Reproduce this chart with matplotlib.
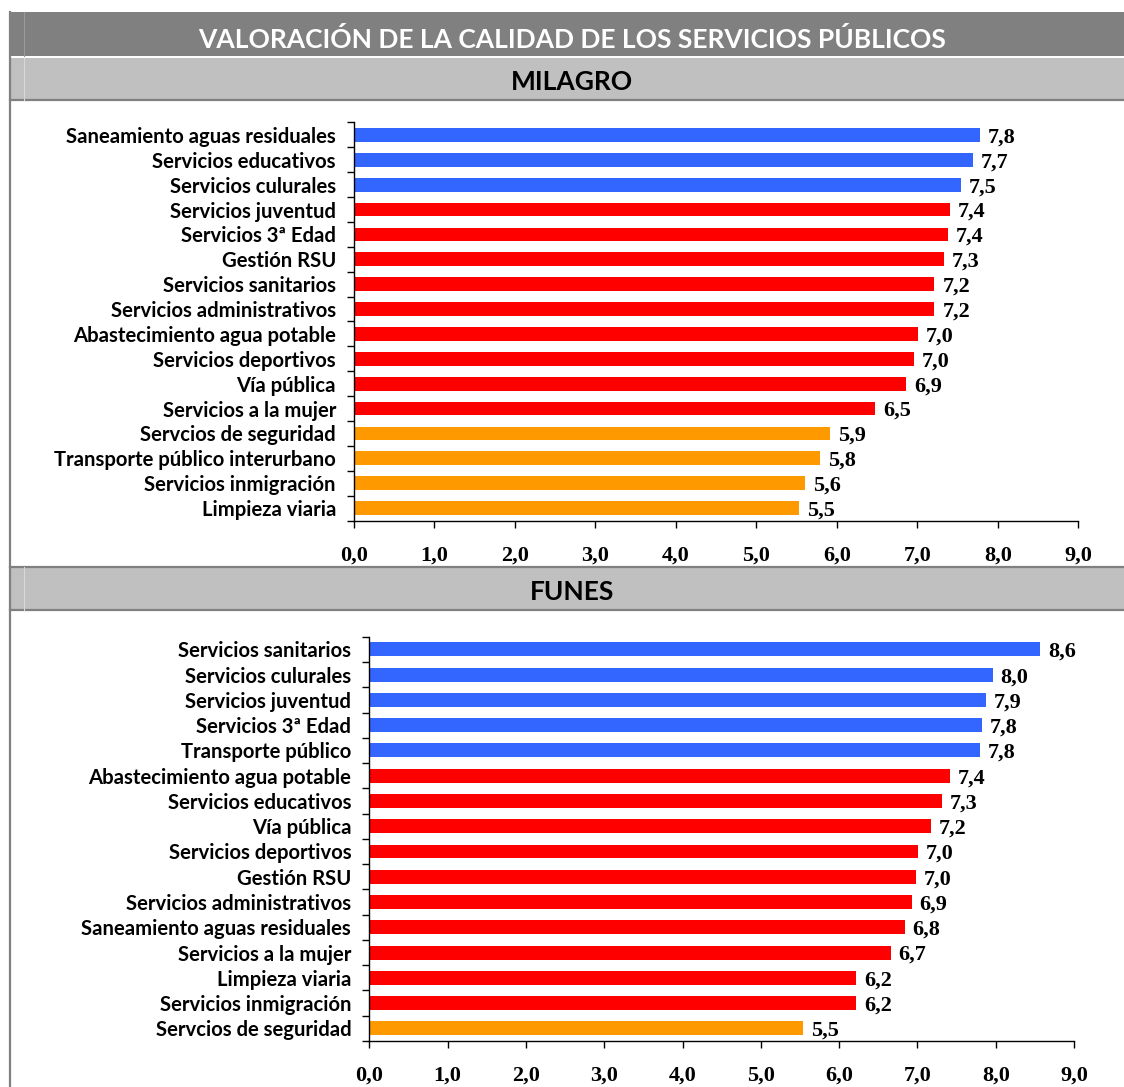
import matplotlib
matplotlib.use("Agg")
import matplotlib.pyplot as plt
from matplotlib.patches import Rectangle
from matplotlib.lines import Line2D

# datos
milagro_labels = ["Saneamiento aguas residuales", "Servicios educativos", "Servicios culurales",
                  "Servicios juventud", "Servicios 3ª Edad", "Gestión RSU", "Servicios sanitarios",
                  "Servicios administrativos", "Abastecimiento agua potable", "Servicios deportivos",
                  "Vía pública", "Servicios a la mujer", "Servcios de seguridad",
                  "Transporte público interurbano", "Servicios inmigración", "Limpieza viaria"]
milagro_values = [7.78, 7.69, 7.54, 7.40, 7.38, 7.33, 7.21, 7.21, 7.01, 6.96, 6.86, 6.48,
                  5.92, 5.79, 5.60, 5.53]
milagro_groups = ["alta", "alta", "alta", "media", "media", "media", "media", "media", "media",
                  "media", "media", "media", "baja", "baja", "baja", "baja"]

funes_labels = ["Servicios sanitarios", "Servicios culurales", "Servicios juventud",
                "Servicios 3ª Edad", "Transporte público", "Abastecimiento agua potable",
                "Servicios educativos", "Vía pública", "Servicios deportivos", "Gestión RSU",
                "Servicios administrativos", "Saneamiento aguas residuales", "Servicios a la mujer",
                "Limpieza viaria", "Servicios inmigración", "Servcios de seguridad"]
funes_values = [8.57, 7.96, 7.87, 7.82, 7.80, 7.42, 7.31, 7.17, 7.01, 6.98, 6.93, 6.84, 6.66,
                6.22, 6.22, 5.54]
funes_groups = ["alta", "alta", "alta", "alta", "alta", "media", "media", "media", "media",
                "media", "media", "media", "media", "media", "media", "baja"]

xticks = [0, 1, 2, 3, 4, 5, 6, 7, 8, 9]
xtick_labels = ["0,0", "1,0", "2,0", "3,0", "4,0", "5,0", "6,0", "7,0", "8,0", "9,0"]

title = "VALORACIÓN DE LA CALIDAD DE LOS SERVICIOS PÚBLICOS"

group_colors = {"alta": "#3366FF", "media": "#FF0000", "baja": "#FF9900"}

W, H = 1124, 1087
fig = plt.figure(figsize=(W / 100, H / 100), dpi=100)


def px_rect(x0, y0, x1, y1, color, z=0):
    # rectangulo en pixeles (origen arriba a la izquierda)
    r = Rectangle((x0 / W, 1 - y1 / H), (x1 - x0) / W, (y1 - y0) / H,
                  transform=fig.transFigure, facecolor=color, edgecolor="none", zorder=z)
    fig.add_artist(r)


def px_line(x0, y0, x1, y1, color, lw, z=1):
    fig.add_artist(Line2D([x0 / W, x1 / W], [1 - y0 / H, 1 - y1 / H],
                          transform=fig.transFigure, color=color, lw=lw, zorder=z))


# cabeceras
px_rect(10, 12, W, 56, "#808080")
px_rect(10, 58, W, 100, "#C0C0C0")
px_rect(10, 567, W, 610, "#C0C0C0")
px_line(10, 100, W, 100, "#808080", 1.6)
px_line(10, 567, W, 567, "#808080", 1.6)
px_line(10, 610, W, 610, "#808080", 1.6)
px_line(10, 12, 10, H, "#808080", 1.6)
px_line(24, 12, 24, 56, "#9A9A9A", 0.8)
px_line(24, 58, 24, 100, "#D8D8D8", 0.8)
px_line(24, 567, 24, 610, "#D8D8D8", 0.8)

fig.text(572 / W, 1 - 39 / H, title, color="white", fontsize=19, fontweight="bold",
         family="Lato", ha="center", va="center")
fig.text(572 / W, 1 - 82 / H, "MILAGRO", color="black", fontsize=19, fontweight="bold",
         family="Lato", ha="center", va="center")
fig.text(572 / W, 1 - 592 / H, "FUNES", color="black", fontsize=19, fontweight="bold",
         family="Lato", ha="center", va="center")


def draw_panel(rect, labels, values, groups):
    ax = fig.add_axes(rect)
    n = len(values)
    pos = list(range(n))
    ax.barh(pos, values, height=0.55, color=[group_colors[g] for g in groups], zorder=2)
    ax.set_xlim(0, 9)
    ax.set_ylim(n - 0.5, -0.5)
    ax.set_yticks(pos)
    ax.set_yticklabels(labels, fontsize=14.6, fontweight="bold", family="Lato")
    ax.set_yticks([p - 0.5 for p in range(n + 1)], minor=True)
    ax.tick_params(axis="y", which="major", length=0, pad=13)
    ax.tick_params(axis="y", which="minor", length=5, width=1, direction="out")
    ax.set_xticks(xticks)
    ax.set_xticklabels(xtick_labels, fontsize=16, fontweight="bold", family="Liberation Serif")
    ax.tick_params(axis="x", length=5, width=1, direction="out", pad=13)
    for s in ["top", "right"]:
        ax.spines[s].set_visible(False)
    for s in ["left", "bottom"]:
        ax.spines[s].set_linewidth(1)
    for p, v in zip(pos, values):
        ax.text(v + 0.1, p, f"{v:.1f}".replace(".", ","), va="center_baseline", ha="left",
                fontsize=16, fontweight="bold", family="Liberation Serif")
    return ax


draw_panel([354 / W, 1 - 520.5 / H, 724.3 / W, 398 / H], milagro_labels, milagro_values, milagro_groups)
draw_panel([369.3 / W, 1 - 1041 / H, 704.7 / W, 404.3 / H], funes_labels, funes_values, funes_groups)

fig.savefig("out.png", dpi=100)
